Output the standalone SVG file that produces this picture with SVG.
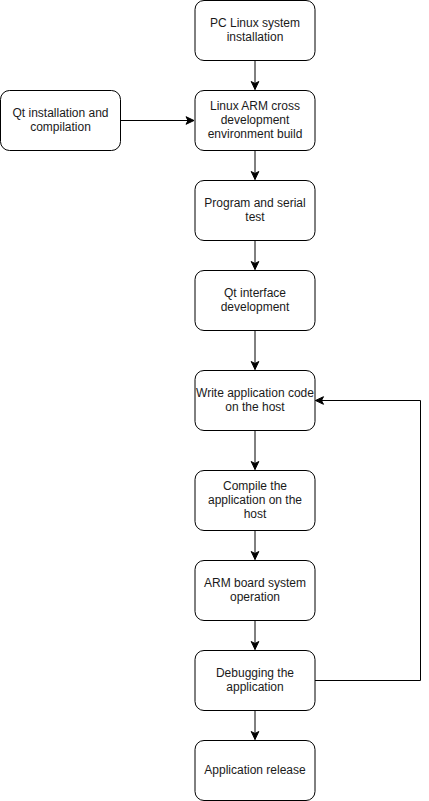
<svg xmlns="http://www.w3.org/2000/svg" width="429" height="801" viewBox="0 0 429 801">
<style>
.n rect{fill:#ffffff;stroke:#000000;stroke-width:1}
.n text{font-family:"Liberation Sans",Arial,sans-serif;font-size:12px;fill:#1a1a1a;text-anchor:middle}
.c path{fill:none;stroke:#000000;stroke-width:1}
</style>
<defs>
<marker id="arr" markerUnits="userSpaceOnUse" markerWidth="10" markerHeight="10" viewBox="0 0 10 10" refX="9" refY="5" orient="auto">
<path d="M1,1.2 L9,5 L1,8.8 L3,5 Z" fill="#000000" stroke="#000000" stroke-width="1"/>
</marker>
</defs>
<rect width="429" height="801" fill="#ffffff"/>
<g id="connectors" class="c">
<path d="M255,60.5 V89.5" marker-end="url(#arr)"/>
<path d="M120.5,120.5 H194" marker-end="url(#arr)"/>
<path d="M255,150.5 V179.5" marker-end="url(#arr)"/>
<path d="M255,240.5 V269.5" marker-end="url(#arr)"/>
<path d="M255,330.5 V369.5" marker-end="url(#arr)"/>
<path d="M255,430.5 V469.5" marker-end="url(#arr)"/>
<path d="M255,530.5 V559.5" marker-end="url(#arr)"/>
<path d="M255,620.5 V649.5" marker-end="url(#arr)"/>
<path d="M255,710.5 V739.5" marker-end="url(#arr)"/>
<path d="M315,680.5 H420.5 V400.5 H315.5" marker-end="url(#arr)"/>
</g>
<g id="n1" class="n"><rect x="195" y="0.5" width="120" height="60" rx="9"/><text x="255" y="27">PC Linux system</text><text x="255" y="41">installation</text></g>
<g id="n2" class="n"><rect x="195" y="90.5" width="120" height="60" rx="9"/><text x="255" y="110">Linux ARM cross</text><text x="255" y="124">development</text><text x="255" y="138">environment build</text></g>
<g id="nqt" class="n"><rect x="0.5" y="90.5" width="120" height="60" rx="9"/><text x="60.5" y="117">Qt installation and</text><text x="60.5" y="131">compilation</text></g>
<g id="n3" class="n"><rect x="195" y="180.5" width="120" height="60" rx="9"/><text x="255" y="207">Program and serial</text><text x="255" y="221">test</text></g>
<g id="n4" class="n"><rect x="195" y="270.5" width="120" height="60" rx="9"/><text x="255" y="297">Qt interface</text><text x="255" y="311">development</text></g>
<g id="n5" class="n"><rect x="195" y="370.5" width="120" height="60" rx="9"/><text x="255" y="397">Write application code</text><text x="255" y="411">on the host</text></g>
<g id="n6" class="n"><rect x="195" y="470.5" width="120" height="60" rx="9"/><text x="255" y="490">Compile the</text><text x="255" y="504">application on the</text><text x="255" y="518">host</text></g>
<g id="n7" class="n"><rect x="195" y="560.5" width="120" height="60" rx="9"/><text x="255" y="587">ARM board system</text><text x="255" y="601">operation</text></g>
<g id="n8" class="n"><rect x="195" y="650.5" width="120" height="60" rx="9"/><text x="255" y="677">Debugging the</text><text x="255" y="691">application</text></g>
<g id="n9" class="n"><rect x="195" y="740.5" width="120" height="60" rx="9"/><text x="255" y="774">Application release</text></g>
</svg>
